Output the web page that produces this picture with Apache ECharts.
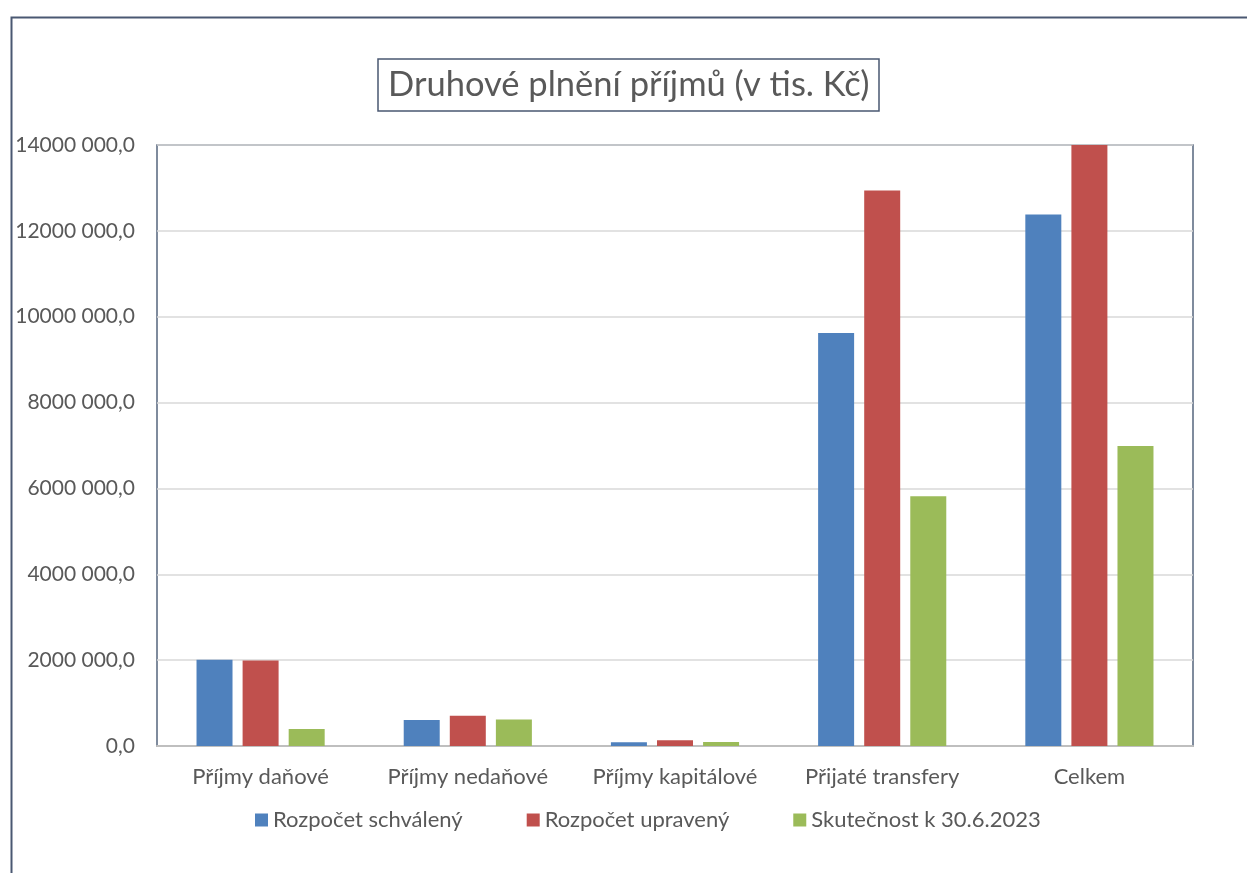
<!DOCTYPE html>
<html>
<head>
<meta charset="utf-8">
<script src="https://cdn.jsdelivr.net/npm/echarts@6/dist/echarts.min.js"></script>
<style>
html,body{margin:0;padding:0;background:#fff;}
#chart{width:1247px;height:873px;}
</style>
</head>
<body>
<div id="chart"></div>
<script>
const categories = ['Příjmy daňové', 'Příjmy nedaňové', 'Příjmy kapitálové', 'Přijaté transfery', 'Celkem'];
const seriesNames = ['Rozpočet schválený', 'Rozpočet upravený', 'Skutečnost k 30.6.2023'];
const rozpocetSchvaleny = [2010000, 606000, 86000, 9620000, 12380000];
const rozpocetUpraveny = [1990000, 706000, 133000, 12940000, 15780000];
const skutecnost = [398000, 615000, 93000, 5820000, 6990000];
const yTickLabels = ['0,0', '2000 000,0', '4000 000,0', '6000 000,0', '8000 000,0', '10000 000,0', '12000 000,0', '14000 000,0'];
const yMin = 0, yMax = 14000000, yInterval = 2000000;

const FONT = 'Lato';
const colors = ['#4F81BD', '#C0504D', '#9BBB59'];
const chart = echarts.init(document.getElementById('chart'), null, {renderer: 'canvas'});

const dataSets = [rozpocetSchvaleny, rozpocetUpraveny, skutecnost];
const option = {
  animation: false,
  backgroundColor: '#ffffff',
  color: colors,
  graphic: [{
    type: 'rect',
    left: 9, top: 15,
    shape: {width: 1300, height: 900},
    style: {fill: 'none', stroke: '#4a5872', lineWidth: 2},
    z: 0
  }],
  title: {
    text: 'Druhové plnění příjmů (v tis. Kč)',
    left: 378, top: 59,
    padding: [7, 10, 7, 10],
    borderColor: '#4a5872',
    borderWidth: 1.5,
    textStyle: {fontFamily: FONT, fontSize: 34.5, lineHeight: 38, fontWeight: 'normal', color: '#595959'}
  },
  legend: {
    data: seriesNames,
    left: 250,
    top: 804,
    icon: 'rect',
    itemWidth: 13,
    itemHeight: 13,
    itemGap: 64,
    textStyle: {fontFamily: FONT, fontSize: 22, color: '#595959'}
  },
  grid: {
    left: 157, top: 145, right: 54, bottom: 127,
    show: true,
    borderColor: '#56657d',
    borderWidth: 1.5,
    containLabel: false
  },
  xAxis: {
    type: 'category',
    data: categories,
    axisLine: {show: true, lineStyle: {color: '#BFBFBF', width: 2}},
    axisTick: {show: false},
    axisLabel: {fontFamily: FONT, fontSize: 22, color: '#595959', margin: 20, interval: 0, hideOverlap: false}
  },
  yAxis: {
    type: 'value',
    min: yMin, max: yMax, interval: yInterval,
    axisLine: {show: false},
    axisTick: {show: false},
    splitLine: {lineStyle: {color: '#D9D9D9', width: 1.5}},
    axisLabel: {
      fontFamily: FONT, fontSize: 21, color: '#595959', margin: 22,
      formatter: function (v) { return yTickLabels[Math.round((v - yMin) / yInterval)]; }
    }
  },
  series: dataSets.map((d, i) => ({
    name: seriesNames[i],
    type: 'bar',
    data: d,
    barWidth: 36,
    barGap: '28%',
    clip: true,
    itemStyle: {color: colors[i]}
  }))
};
chart.setOption(option);
</script>
</body>
</html>
